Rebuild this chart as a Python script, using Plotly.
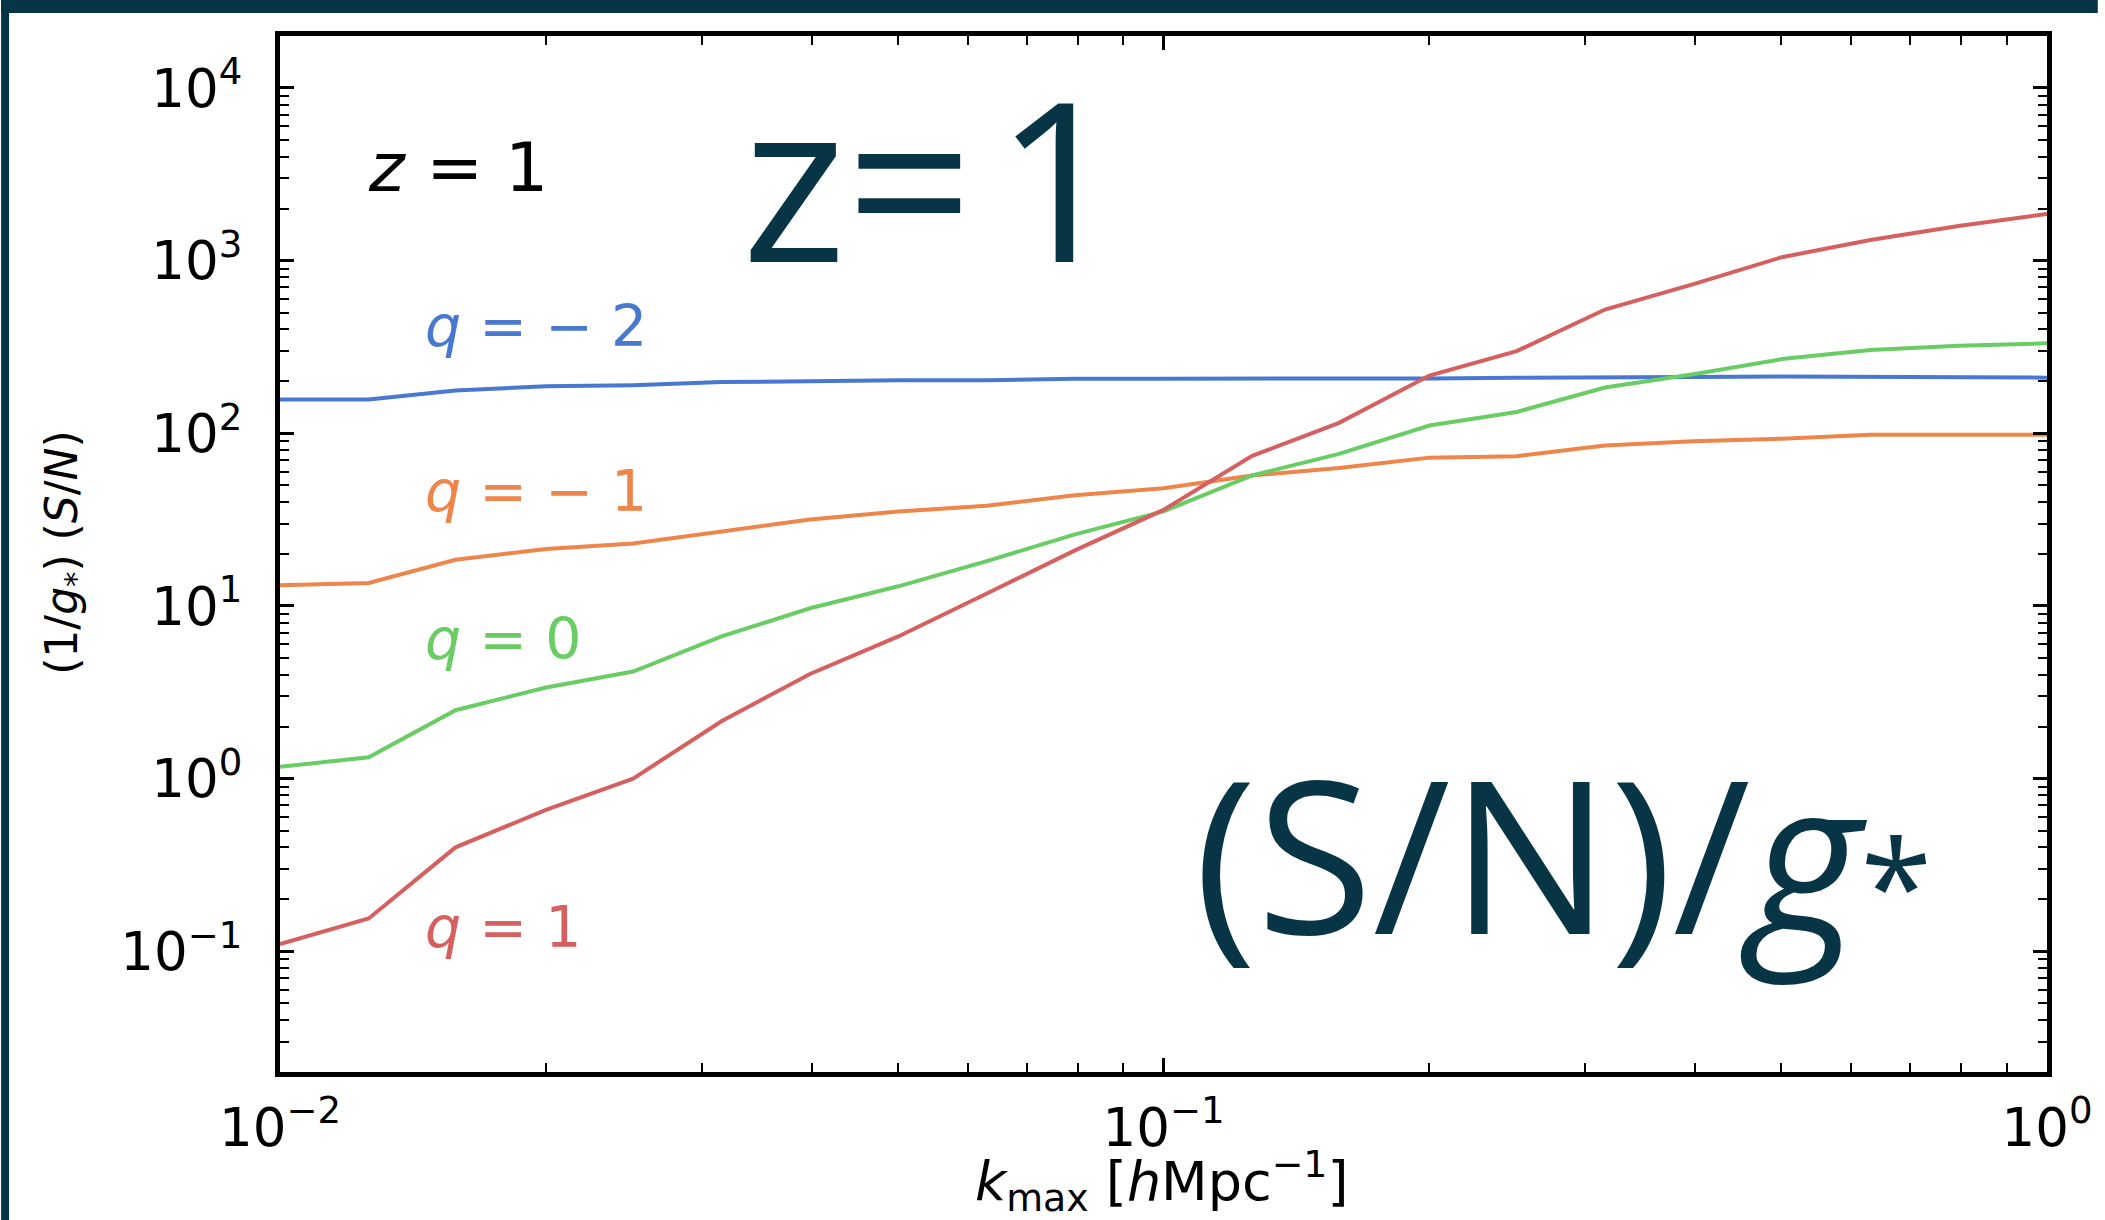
import plotly.graph_objects as go

# ---------------- data ----------------
k_max = [0.01, 0.0126, 0.0158, 0.02, 0.0251, 0.0316, 0.0398, 0.0501, 0.0631, 0.0794,
         0.1, 0.126, 0.158, 0.2, 0.251, 0.316, 0.398, 0.501, 0.631, 0.794, 1.0]

sn_q_m2 = [157, 157, 177, 187, 190, 198, 200, 203, 203, 207,
           207, 207, 207, 208, 210, 212, 212, 213, 212, 212, 210]
sn_q_m1 = [13.2, 13.6, 18.5, 21.4, 23.0, 27.0, 31.7, 35.3, 38.0, 43.8,
           48.0, 57.0, 63.0, 72.3, 73.7, 85.0, 89.8, 93.0, 98.0, 98.0, 98.0]
sn_q_0 = [1.17, 1.33, 2.49, 3.37, 4.17, 6.66, 9.7, 13.0, 18.2, 26.0,
          35.3, 57.0, 76.0, 111, 133, 184, 220, 269, 304, 321, 332]
sn_q_1 = [0.11, 0.155, 0.40, 0.66, 1.0, 2.15, 4.04, 6.66, 11.8, 21.0,
          36.0, 74.0, 115, 216, 299, 521, 731, 1047, 1318, 1585, 1862]

series_labels = ["q = −2", "q = −1", "q = 0", "q = 1"]
series_text = ["<i>q</i> = − 2", "<i>q</i> = − 1", "<i>q</i> = 0", "<i>q</i> = 1"]

x_major = [0.01, 0.1, 1.0]
x_major_text = ["10<sup>−2</sup>", "10<sup>−1</sup>", "10<sup>0</sup>"]
y_major = [0.1, 1, 10, 100, 1000, 10000]
y_major_text = ["10<sup>−1</sup>", "10<sup>0</sup>", "10<sup>1</sup>",
                "10<sup>2</sup>", "10<sup>3</sup>", "10<sup>4</sup>"]

# ---------------- styling ----------------
colors = ["#4878D0", "#EE854A", "#6ACC64", "#D65F5F"]
dark = "#083545"

W, H = 2105, 1220
L, R, T, B = 280, 2054, 36, 1072  # plot area in pixels

x_minor = [m * 10.0 ** e for e in (-2, -1) for m in range(2, 10)]
y_minor = [m * 10.0 ** e for e in range(-2, 5) for m in range(2, 10) if m * 10.0 ** e <= 20000]

fig = go.Figure()
for vals, col, name in zip([sn_q_m2, sn_q_m1, sn_q_0, sn_q_1], colors, series_labels):
    fig.add_trace(go.Scatter(x=k_max, y=vals, mode="lines", name=name,
                             line=dict(color=col, width=4), showlegend=False))

axis_common = dict(
    type="log", showline=True, linewidth=5, linecolor="black", mirror="allticks",
    ticks="inside", ticklen=14, tickwidth=2.5, tickcolor="black",
    showgrid=False, zeroline=False,
    tickfont=dict(family="DejaVu Sans", size=53, color="black"),
    tickmode="array",
)

fig.update_xaxes(**axis_common, range=[-2, 0], tickvals=x_major, ticktext=x_major_text,
                 ticklabelstandoff=5,
                 minor=dict(tickvals=x_minor, ticks="inside", ticklen=9, tickwidth=2,
                            tickcolor="black", showgrid=False))
fig.update_yaxes(**axis_common, range=[-1.699, 4.301], tickvals=y_major, ticktext=y_major_text,
                 ticklabelstandoff=22,
                 minor=dict(tickvals=y_minor, ticks="inside", ticklen=9, tickwidth=2,
                            tickcolor="black", showgrid=False))

pw, ph = R - L, B - T


def px_x(px):
    return (px - L) / pw


def px_y(py):
    return (B - py) / ph


annotations = []
# series labels (log-space data coordinates)
label_pos = [(-1.838, 2.623), (-1.838, 1.665), (-1.838, 0.808), (-1.838, -0.858)]
for (lx, ly), txt, col in zip(label_pos, series_text, colors):
    annotations.append(dict(x=lx, y=ly, xref="x", yref="y", text=txt, showarrow=False,
                            xanchor="left", yanchor="middle",
                            font=dict(family="DejaVu Sans", size=57, color=col)))

annotations.append(dict(x=-1.903, y=3.54, xref="x", yref="y", text="<i>z</i> = 1",
                        showarrow=False, xanchor="left", yanchor="middle",
                        font=dict(family="DejaVu Sans", size=68, color="black")))
annotations.append(dict(x=-1.262, y=3.49, xref="x", yref="y", text="z=\u200a1",
                        showarrow=False, xanchor="center", yanchor="middle",
                        font=dict(family="Open Sans", size=222, color=dark)))
annotations.append(dict(x=-0.548, y=-0.42, xref="x", yref="y",
                        text="(S/N)/<i>g</i><span style='font-size:130px'>*</span>",
                        showarrow=False, xanchor="center", yanchor="middle",
                        font=dict(family="Open Sans", size=212, color=dark)))
# axis titles
annotations.append(dict(x=px_x(1165), y=px_y(1181), xref="paper", yref="paper",
                        text="<i>k</i><sub>max</sub> [<i>h</i>Mpc<sup>−1</sup>]",
                        showarrow=False, xanchor="center", yanchor="middle",
                        font=dict(family="DejaVu Sans", size=54, color="black")))
annotations.append(dict(x=px_x(63), y=px_y(552), xref="paper", yref="paper",
                        text="(1/<i>g</i><sub>*</sub>) (<i>S</i>/<i>N</i>)", textangle=-90,
                        showarrow=False, xanchor="center", yanchor="middle",
                        font=dict(family="DejaVu Sans", size=44, color="black")))

shapes = [
    dict(type="rect", xref="paper", yref="paper", x0=px_x(0), x1=px_x(W), y0=px_y(0), y1=px_y(13),
         fillcolor=dark, line=dict(width=0), layer="above"),
    dict(type="rect", xref="paper", yref="paper", x0=px_x(0), x1=px_x(8), y0=px_y(0), y1=px_y(H),
         fillcolor=dark, line=dict(width=0), layer="above"),
]

fig.update_layout(
    width=W, height=H, autosize=False,
    margin=dict(l=L, r=W - R, t=T, b=H - B, pad=0),
    paper_bgcolor="white", plot_bgcolor="white",
    annotations=annotations, shapes=shapes,
    font=dict(family="DejaVu Sans", color="black"),
)

fig.write_html("out.html")
